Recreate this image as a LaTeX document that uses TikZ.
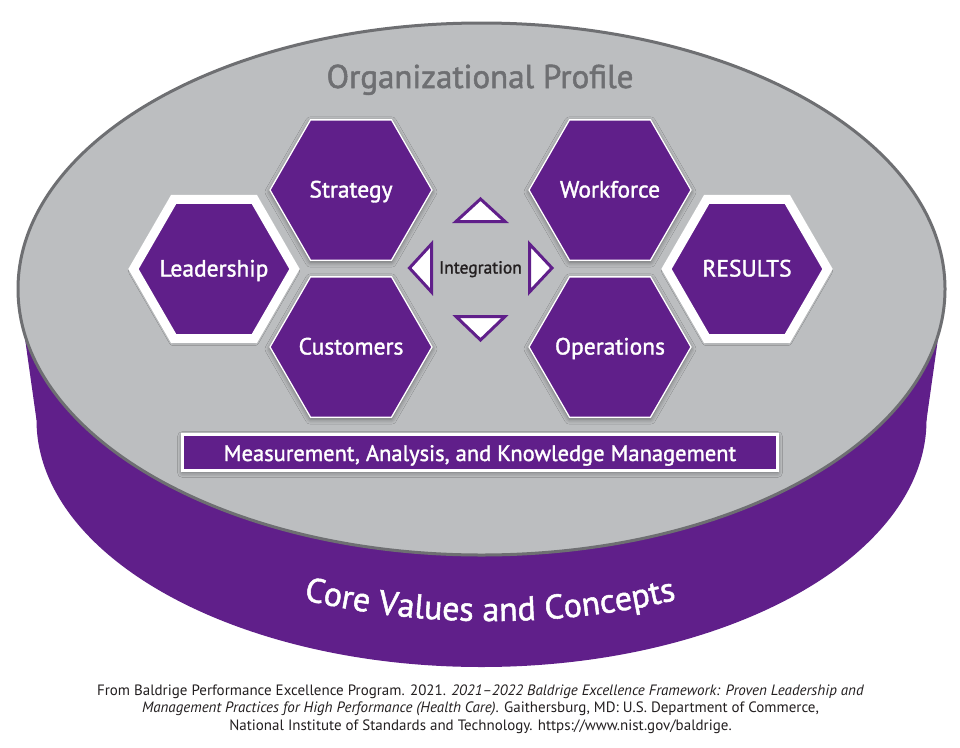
\documentclass[tikz,border=0pt]{standalone}
\usepackage{fontspec}
\setmainfont{PT Sans}
\newfontfamily\labelfont[FakeBold=1.5]{PT Sans}
\newfontfamily\citefont{PT Sans}
\usetikzlibrary{shapes.geometric,shadows.blur,decorations.text}
\definecolor{bpurple}{RGB}{96,31,138}
\definecolor{bgray}{RGB}{188,190,192}
\definecolor{bdark}{RGB}{110,111,114}
\definecolor{btext}{RGB}{35,31,32}
\begin{document}
\begin{tikzpicture}[x=1pt,y=-1pt,
  hexshadow/.style={blur shadow={shadow xshift=0pt,shadow yshift=-2pt,shadow blur radius=5pt,shadow opacity=45}},
  hexbox/.style={regular polygon,regular polygon sides=6,minimum size=162pt,inner sep=0pt,
    fill=bpurple,draw=white,line width=1.3pt,hexshadow},
  bighex/.style={hexbox,minimum size=161pt,line width=9pt},
  hexlabel/.style={inner sep=0pt,text=white,font=\labelfont\fontsize{23.5}{26}\selectfont,text height=15pt,text depth=0pt},
  tri/.style={draw=bpurple,fill=white,line width=3pt,line join=miter},
  citeline/.style={anchor=base,text=btext,font=\citefont\fontsize{15}{17}\selectfont,inner sep=0pt}]

\useasboundingbox (0,0) rectangle (960,747);
\fill[white] (0,0) rectangle (960,747);

% purple base of the cylinder
\fill[bpurple] (481.5,420) ellipse [x radius=445, y radius=247];
\fill[bpurple] (18,289) -- (36.5,420) -- (926.5,420) -- (945,289) -- cycle;
% grey top
\filldraw[fill=bgray,draw=bdark,line width=3pt] (481.5,289) ellipse [x radius=463.5, y radius=266];

% curved title on the band
\path[decorate,decoration={text along path,text align=center,text color=white,
   text={|\labelfont\fontsize{34}{36}\selectfont|Core Values and Concepts}}]
   (490,420) ++(160:416 and 201) arc[start angle=160,end angle=20,x radius=416,y radius=201];

\node[anchor=base,text=bdark,font=\labelfont\fontsize{33}{36}\selectfont] (op) at (480,88) {Organizational Profile};

% hexagons
\node[bighex] (lead) at (214,269) {};
\node[bighex] (res) at (747,269) {};
\node[hexbox] (strat) at (351,190) {};
\node[hexbox] (cust) at (351,347) {};
\node[hexbox] (work) at (610,190) {};
\node[hexbox] (oper) at (610,347) {};
\node[hexlabel] (leadT) at (lead.center) {Leadership};
\node[hexlabel] (resT) at (res.center) {RESULTS};
\node[hexlabel] (stratT) at (strat.center) {Strategy};
\node[hexlabel] (custT) at (cust.center) {Customers};
\node[hexlabel] (workT) at (work.center) {Workforce};
\node[hexlabel] (operT) at (oper.center) {Operations};

% integration
\node[text=btext,font=\labelfont\fontsize{17.5}{19}\selectfont,text height=11pt,text depth=0pt,inner sep=0pt] (integ) at (480.5,268) {Integration};
\draw[tri] (480.5,199) -- (505,221.5) -- (456,221.5) -- cycle;
\draw[tri] (456,316.5) -- (505,316.5) -- (480.5,340) -- cycle;
\draw[tri] (409.5,268) -- (431.5,244) -- (431.5,292) -- cycle;
\draw[tri] (552,268) -- (529.5,244) -- (529.5,292) -- cycle;

% measurement bar
\node[draw=white,line width=3pt,fill=bpurple,minimum width=595pt,minimum height=36pt,inner sep=0pt,
  text=white,font=\labelfont\fontsize{22.5}{24}\selectfont,text height=17pt,text depth=0pt,hexshadow] (meas) at (480,452.5)
  {Measurement, Analysis, and Knowledge Management};

% citation
\node[citeline] (c1) at (480.5,695) {From Baldrige Performance Excellence Program. 2021. \textit{2021–2022 Baldrige Excellence Framework: Proven Leadership and}};
\node[citeline] (c2) at (480.5,712.7) {\textit{Management Practices for High Performance (Health Care)}. Gaithersburg, MD: U.S. Department of Commerce,};
\node[citeline] (c3) at (480.5,730.5) {National Institute of Standards and Technology. https://www.nist.gov/baldrige.};
\end{tikzpicture}
\end{document}
